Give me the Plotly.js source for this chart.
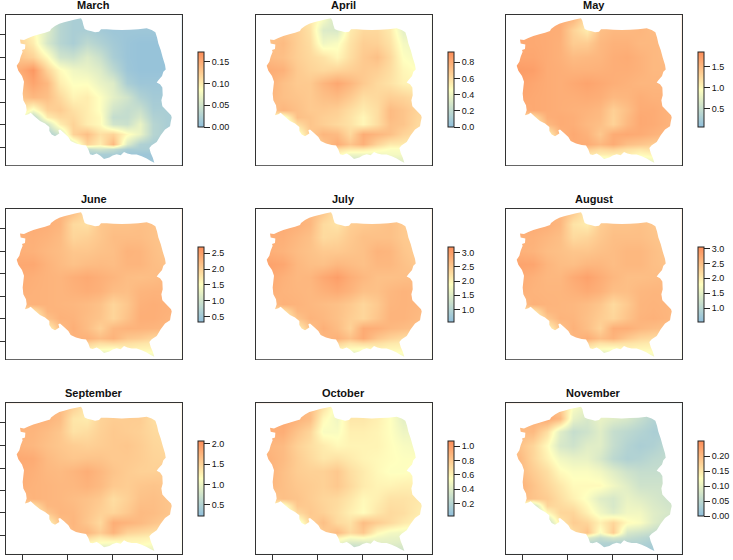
<!DOCTYPE html>
<html><head><meta charset="utf-8">
<script src="https://cdn.plot.ly/plotly-3.0.1.min.js"></script>
<style>html,body{margin:0;padding:0;background:#fff}#c{width:733px;height:560px}</style>
</head><body><div id="c"></div>
<script>
const months=["March","April","May","June","July","August","September","October","November"];
const gridX=[20,60,100,140,180,220,260,300,340,380,420,460,500,540];
const gridY=[50,90,130,170,210,250,290,330,350,370,400,430,445,460,490];
const tickX=[68,203,338,473];
const tickY=[103,171,239,306,373,441];
const outlineX=[60,72,85,100,118,135,150,153,165,178,192,210,228,243,247,250,254,262,275,285,297,303,320,340,365,390,415,440,455,466,471,475,482,488,495,497,490,486,475,470,480,487,488,484,487,500,513,515,512,510,495,482,470,455,448,452,458,463,452,440,425,410,395,382,372,362,350,338,328,312,300,290,278,270,265,258,245,228,212,205,192,180,175,178,165,155,148,148,135,120,105,92,85,75,80,78,70,68,70,72,66,55,50,58,62,68,66,75,76,62];
const outlineY=[118,120,114,108,103,98,93,87,78,71,67,62,58,55,62,75,87,91,94,97,95,88,88,89,90,89,88,85,90,97,112,130,150,172,195,208,215,228,240,247,252,262,285,300,318,332,345,352,365,378,388,405,425,435,443,458,472,487,482,475,468,463,463,460,455,465,462,466,472,476,466,460,464,462,448,436,434,430,422,410,398,388,390,400,408,403,392,380,370,362,350,338,342,345,330,315,300,280,262,245,228,212,197,185,170,155,150,147,133,130];
const marchZ=[
[.10,.10,.08,.05,.03,.02,.02,.015,.01,.01,.01,.01,.01,.01],
[.11,.11,.09,.06,.03,.02,.02,.015,.01,.01,.01,.01,.01,.01],
[.12,.12,.10,.055,.03,.02,.035,.025,.015,.008,.005,.005,.005,.005],
[.13,.13,.12,.09,.05,.045,.06,.045,.02,.008,.005,.005,.005,.005],
[.15,.15,.165,.12,.09,.075,.07,.06,.035,.01,.005,.005,.005,.005],
[.14,.14,.155,.14,.10,.085,.085,.07,.06,.02,.01,.01,.01,.01],
[.13,.13,.14,.135,.115,.095,.10,.085,.065,.05,.025,.015,.015,.015],
[.11,.11,.08,.12,.125,.11,.10,.085,.05,.04,.045,.02,.02,.02],
[.09,.09,.03,.10,.115,.115,.10,.09,.04,.04,.055,.025,.02,.02],
[.03,.03,.02,.05,.10,.12,.10,.09,.05,.045,.07,.03,.02,.02],
[.02,.02,.02,.02,.05,.12,.135,.11,.12,.09,.07,.03,.02,.02],
[.02,.02,.02,.02,.03,.06,.12,.10,.14,.06,.025,.02,.02,.02],
[.02,.02,.02,.02,.02,.03,.04,.05,.04,.02,.02,.02,.02,.02],
[.02,.02,.02,.02,.02,.02,.02,.02,.02,.01,.01,.01,.01,.01],
[.01,.01,.01,.01,.01,.01,.01,.01,.01,.01,.01,.01,.01,.01]];
const aprilZ=[
[.65,.65,.60,.60,.55,.45,.25,.55,.60,.60,.50,.40,.40,.40],
[.65,.70,.70,.66,.58,.32,.30,.55,.62,.62,.55,.35,.35,.35],
[.70,.72,.74,.66,.60,.40,.44,.58,.66,.65,.58,.42,.38,.38],
[.72,.74,.72,.66,.62,.58,.50,.60,.68,.72,.62,.46,.42,.42],
[.76,.80,.78,.68,.64,.62,.64,.66,.68,.66,.60,.50,.46,.46],
[.74,.78,.72,.68,.68,.76,.82,.76,.68,.62,.58,.52,.50,.50],
[.72,.76,.72,.70,.68,.72,.74,.68,.60,.62,.66,.64,.60,.58],
[.68,.70,.76,.72,.68,.68,.66,.60,.54,.60,.74,.70,.64,.62],
[.50,.50,.40,.72,.70,.66,.64,.58,.50,.60,.74,.70,.63,.60],
[.40,.45,.30,.60,.70,.66,.62,.58,.50,.60,.72,.70,.62,.60],
[.30,.30,.30,.40,.68,.76,.74,.62,.80,.76,.72,.64,.60,.60],
[.30,.30,.30,.30,.50,.70,.80,.70,.78,.64,.55,.55,.50,.50],
[.30,.30,.30,.30,.35,.50,.60,.55,.55,.50,.45,.45,.45,.45],
[.30,.30,.30,.30,.40,.45,.50,.40,.40,.40,.42,.42,.40,.40],
[.20,.20,.20,.20,.30,.30,.30,.15,.20,.30,.30,.30,.30,.30]];
const mayZ=[
[1.6,1.6,1.6,1.6,1.6,1.55,1.2,1.5,1.5,1.5,1.5,1.5,1.5,1.5],
[1.6,1.62,1.62,1.6,1.58,1.3,1.1,1.45,1.5,1.5,1.52,1.48,1.45,1.45],
[1.6,1.62,1.62,1.6,1.56,1.35,1.35,1.5,1.55,1.55,1.5,1.5,1.48,1.45],
[1.62,1.64,1.64,1.6,1.56,1.48,1.5,1.52,1.58,1.6,1.55,1.5,1.48,1.45],
[1.66,1.72,1.7,1.6,1.58,1.55,1.55,1.56,1.58,1.58,1.55,1.5,1.5,1.5],
[1.64,1.68,1.64,1.6,1.58,1.62,1.66,1.62,1.58,1.55,1.52,1.52,1.52,1.5],
[1.62,1.65,1.62,1.6,1.58,1.58,1.6,1.58,1.5,1.52,1.58,1.55,1.55,1.55],
[1.45,1.58,1.62,1.6,1.58,1.56,1.54,1.5,1.32,1.45,1.6,1.6,1.55,1.5],
[1.3,1.3,1.2,1.58,1.6,1.58,1.52,1.48,1.3,1.48,1.62,1.6,1.55,1.5],
[1.0,1.1,1.0,1.5,1.6,1.58,1.5,1.45,1.3,1.5,1.62,1.6,1.55,1.5],
[.9,.9,.9,1.0,1.55,1.62,1.55,1.38,1.6,1.62,1.6,1.55,1.5,1.45],
[.9,.9,.9,.9,1.4,1.6,1.6,1.5,1.6,1.45,1.4,1.35,1.3,1.3],
[.9,.9,.9,.9,1.0,1.3,1.35,1.25,1.3,1.2,1.15,1.2,1.15,1.1],
[.9,.9,.9,.9,.9,1.1,1.15,1.1,1.1,1.1,1.0,1.05,1.05,1.0],
[.7,.7,.7,.7,.7,.7,.7,.5,.7,.7,.7,.7,.7,.7]];
const juneZ=[
[2.3,2.3,2.3,2.3,2.3,2.2,1.85,2.15,2.15,2.15,2.15,2.15,2.15,2.15],
[2.3,2.35,2.38,2.35,2.28,1.9,1.85,2.1,2.15,2.15,2.18,2.15,2.1,2.1],
[2.3,2.32,2.34,2.3,2.22,1.95,2.0,2.1,2.2,2.2,2.2,2.15,2.1,2.1],
[2.32,2.34,2.32,2.25,2.2,2.1,2.1,2.15,2.18,2.3,2.28,2.18,2.1,2.1],
[2.36,2.42,2.42,2.3,2.22,2.15,2.2,2.22,2.2,2.28,2.28,2.2,2.15,2.15],
[2.34,2.38,2.34,2.3,2.28,2.35,2.4,2.34,2.28,2.2,2.18,2.2,2.25,2.25],
[2.32,2.35,2.32,2.3,2.28,2.32,2.36,2.32,2.2,2.18,2.28,2.3,2.3,2.3],
[2.1,2.25,2.32,2.3,2.28,2.26,2.22,2.15,1.95,2.1,2.32,2.35,2.32,2.28],
[1.9,1.9,1.8,2.28,2.3,2.28,2.22,2.14,1.95,2.12,2.34,2.35,2.32,2.28],
[1.6,1.7,1.6,2.15,2.32,2.3,2.2,2.12,1.95,2.15,2.35,2.35,2.3,2.25],
[1.5,1.5,1.5,1.6,2.2,2.35,2.2,2.0,2.25,2.3,2.3,2.28,2.25,2.2],
[1.5,1.5,1.5,1.5,2.0,2.3,2.32,2.2,2.3,2.1,2.05,1.95,1.9,1.85],
[1.5,1.5,1.5,1.5,1.7,1.95,2.0,1.85,1.9,1.85,1.8,1.75,1.7,1.7],
[1.5,1.5,1.5,1.5,1.6,1.7,1.75,1.6,1.55,1.7,1.65,1.65,1.6,1.6],
[1.2,1.2,1.2,1.2,1.2,1.2,1.2,.8,1.2,1.3,1.3,1.3,1.3,1.3]];
const julyZ=[
[2.75,2.75,2.75,2.75,2.7,2.55,2.15,2.5,2.5,2.5,2.5,2.5,2.5,2.5],
[2.75,2.85,2.85,2.8,2.7,2.3,2.2,2.45,2.5,2.55,2.6,2.5,2.45,2.45],
[2.75,2.8,2.8,2.7,2.6,2.3,2.35,2.5,2.6,2.6,2.6,2.5,2.45,2.45],
[2.78,2.8,2.75,2.65,2.58,2.5,2.5,2.55,2.6,2.75,2.72,2.55,2.45,2.45],
[2.85,2.95,2.9,2.7,2.62,2.6,2.7,2.65,2.6,2.7,2.7,2.6,2.5,2.5],
[2.82,2.88,2.78,2.7,2.72,2.88,3.0,2.82,2.7,2.6,2.6,2.62,2.65,2.65],
[2.78,2.82,2.75,2.72,2.7,2.78,2.85,2.75,2.6,2.6,2.7,2.75,2.72,2.7],
[2.5,2.65,2.78,2.75,2.7,2.65,2.6,2.5,2.35,2.5,2.72,2.75,2.72,2.65],
[2.3,2.3,2.2,2.7,2.72,2.68,2.6,2.48,2.35,2.52,2.74,2.75,2.7,2.62],
[2.0,2.1,2.0,2.55,2.75,2.7,2.6,2.45,2.35,2.55,2.75,2.75,2.68,2.6],
[1.9,1.9,1.9,2.0,2.6,2.8,2.65,2.4,2.85,2.8,2.7,2.65,2.6,2.55],
[1.9,1.9,1.9,1.9,2.4,2.7,2.78,2.6,2.85,2.55,2.4,2.3,2.2,2.2],
[1.9,1.9,1.9,1.9,2.1,2.35,2.4,2.2,2.3,2.25,2.15,2.1,2.05,2.05],
[1.9,1.9,1.9,1.9,2.0,2.05,2.1,1.95,1.9,2.05,2.0,2.0,1.95,1.95],
[1.6,1.6,1.6,1.6,1.6,1.6,1.6,1.0,1.6,1.7,1.7,1.7,1.7,1.7]];
const augustZ=[
[2.6,2.6,2.6,2.6,2.6,2.4,2.0,2.45,2.45,2.45,2.4,2.4,2.4,2.4],
[2.6,2.7,2.72,2.68,2.58,2.1,2.0,2.35,2.45,2.45,2.48,2.42,2.4,2.4],
[2.6,2.65,2.65,2.58,2.5,2.2,2.25,2.4,2.5,2.5,2.5,2.45,2.4,2.4],
[2.62,2.65,2.62,2.52,2.48,2.42,2.42,2.48,2.52,2.58,2.58,2.5,2.42,2.42],
[2.7,2.8,2.78,2.6,2.52,2.5,2.58,2.58,2.52,2.58,2.58,2.5,2.45,2.45],
[2.65,2.72,2.65,2.58,2.58,2.72,2.82,2.7,2.58,2.5,2.5,2.52,2.55,2.55],
[2.62,2.68,2.62,2.6,2.6,2.65,2.72,2.65,2.5,2.5,2.58,2.6,2.6,2.6],
[2.35,2.5,2.65,2.62,2.6,2.58,2.52,2.42,2.2,2.38,2.6,2.62,2.6,2.55],
[2.15,2.15,2.05,2.58,2.6,2.58,2.5,2.38,2.22,2.42,2.6,2.63,2.6,2.52],
[1.85,1.95,1.85,2.4,2.62,2.6,2.48,2.35,2.25,2.45,2.62,2.65,2.6,2.5],
[1.8,1.8,1.8,1.85,2.45,2.65,2.5,2.28,2.68,2.68,2.58,2.52,2.48,2.42],
[1.8,1.8,1.8,1.8,2.25,2.58,2.68,2.5,2.62,2.4,2.25,2.2,2.15,2.1],
[1.8,1.8,1.8,1.8,1.95,2.2,2.3,2.1,2.15,2.1,2.05,2.0,1.95,1.95],
[1.8,1.8,1.8,1.8,1.9,1.95,2.0,1.85,1.8,1.95,1.9,1.9,1.85,1.85],
[1.5,1.5,1.5,1.5,1.5,1.5,1.5,.9,1.5,1.6,1.6,1.6,1.6,1.6]];
const septemberZ=[
[1.7,1.7,1.7,1.7,1.7,1.55,1.3,1.55,1.55,1.55,1.5,1.45,1.45,1.45],
[1.7,1.75,1.78,1.75,1.68,1.35,1.3,1.5,1.55,1.55,1.55,1.42,1.4,1.4],
[1.72,1.75,1.74,1.68,1.6,1.38,1.42,1.52,1.58,1.55,1.52,1.45,1.42,1.42],
[1.74,1.75,1.72,1.65,1.6,1.55,1.52,1.55,1.58,1.6,1.55,1.48,1.45,1.45],
[1.8,1.84,1.82,1.7,1.64,1.6,1.62,1.62,1.58,1.58,1.55,1.5,1.48,1.48],
[1.78,1.82,1.78,1.72,1.7,1.74,1.8,1.72,1.62,1.56,1.52,1.52,1.55,1.55],
[1.76,1.8,1.76,1.74,1.72,1.72,1.76,1.7,1.58,1.55,1.6,1.62,1.6,1.6],
[1.55,1.7,1.76,1.74,1.72,1.68,1.64,1.58,1.42,1.52,1.64,1.66,1.62,1.58],
[1.45,1.5,1.4,1.72,1.73,1.7,1.63,1.55,1.44,1.55,1.67,1.67,1.62,1.56],
[1.2,1.3,1.2,1.6,1.74,1.72,1.62,1.52,1.48,1.58,1.7,1.68,1.62,1.55],
[1.15,1.15,1.15,1.2,1.65,1.74,1.6,1.45,1.8,1.75,1.7,1.62,1.55,1.5],
[1.15,1.15,1.15,1.15,1.45,1.7,1.72,1.55,1.75,1.5,1.45,1.4,1.3,1.3],
[1.15,1.15,1.15,1.15,1.25,1.4,1.45,1.3,1.4,1.3,1.28,1.25,1.2,1.2],
[1.15,1.15,1.15,1.15,1.15,1.2,1.2,1.15,1.1,1.2,1.2,1.15,1.1,1.1],
[.8,.8,.8,.8,.8,.8,.8,.5,.8,.9,.9,.9,.9,.9]];
const octoberZ=[
[.88,.88,.9,.88,.85,.7,.48,.68,.66,.62,.55,.5,.5,.5],
[.85,.9,.95,.9,.85,.58,.48,.66,.66,.62,.55,.42,.42,.42],
[.88,.92,.92,.82,.74,.52,.52,.62,.62,.6,.55,.47,.47,.47],
[.85,.88,.86,.76,.7,.64,.58,.6,.6,.6,.56,.52,.5,.5],
[.85,.9,.86,.78,.72,.66,.68,.64,.6,.58,.56,.54,.54,.54],
[.85,.9,.84,.78,.76,.76,.8,.7,.64,.58,.54,.54,.56,.56],
[.82,.88,.84,.8,.78,.76,.8,.72,.64,.6,.6,.62,.62,.62],
[.7,.8,.84,.82,.78,.74,.72,.66,.58,.62,.68,.68,.66,.62],
[.6,.6,.5,.8,.79,.75,.71,.64,.57,.64,.7,.69,.65,.61],
[.42,.48,.4,.72,.8,.76,.7,.62,.56,.66,.72,.7,.64,.6],
[.35,.35,.35,.42,.76,.84,.72,.68,.85,.78,.72,.65,.6,.55],
[.35,.35,.35,.35,.6,.78,.86,.72,.8,.58,.5,.48,.45,.45],
[.32,.32,.32,.32,.45,.58,.62,.52,.55,.48,.45,.44,.42,.42],
[.3,.3,.3,.3,.4,.45,.48,.38,.38,.42,.42,.4,.38,.38],
[.2,.2,.2,.2,.2,.2,.2,.1,.2,.3,.3,.3,.3,.3]];
const novemberZ=[
[.2,.2,.2,.2,.18,.12,.1,.1,.1,.09,.07,.05,.04,.04],
[.19,.2,.21,.22,.2,.1,.08,.1,.09,.08,.06,.04,.03,.03],
[.19,.2,.2,.16,.09,.06,.07,.09,.06,.05,.04,.03,.03,.03],
[.19,.19,.17,.13,.08,.07,.09,.09,.06,.04,.03,.035,.05,.05],
[.19,.2,.17,.14,.11,.1,.1,.08,.05,.035,.04,.05,.055,.055],
[.19,.2,.18,.16,.13,.12,.12,.11,.09,.07,.06,.06,.06,.06],
[.2,.21,.19,.17,.15,.13,.13,.13,.11,.09,.07,.07,.07,.07],
[.15,.2,.19,.18,.16,.14,.12,.09,.08,.1,.09,.08,.07,.07],
[.12,.12,.06,.17,.165,.155,.13,.1,.08,.105,.1,.085,.075,.07],
[.05,.07,.05,.13,.17,.17,.14,.11,.09,.11,.11,.09,.08,.07],
[.04,.04,.04,.05,.15,.18,.17,.14,.17,.13,.12,.09,.07,.06],
[.04,.04,.04,.04,.1,.16,.19,.12,.18,.08,.07,.06,.05,.05],
[.035,.035,.035,.035,.06,.09,.09,.06,.08,.06,.05,.04,.04,.04],
[.03,.03,.03,.03,.05,.06,.05,.04,.04,.04,.04,.03,.03,.03],
[.02,.02,.02,.02,.02,.02,.02,.02,.02,.02,.02,.02,.02,.02]];
const monthZ=[marchZ,aprilZ,mayZ,juneZ,julyZ,augustZ,septemberZ,octoberZ,novemberZ];
const zMin=[0,0,.064,.33,.555,.53,.22,.024,0];
const zMax=[.173,.928,1.84,2.70,3.2,3.05,2.07,1.074,.25];
const barTicks=[[0,.05,.10,.15],[0,.2,.4,.6,.8],[.5,1,1.5],[.5,1,1.5,2,2.5],[1,1.5,2,2.5,3],[1,1.5,2,2.5,3],[.5,1,1.5,2],[.2,.4,.6,.8,1],[0,.05,.1,.15,.2]];
const barLabels=[["0.00","0.05","0.10","0.15"],["0.0","0.2","0.4","0.6","0.8"],["0.5","1.0","1.5"],["0.5","1.0","1.5","2.0","2.5"],["1.0","1.5","2.0","2.5","3.0"],["1.0","1.5","2.0","2.5","3.0"],["0.5","1.0","1.5","2.0"],["0.2","0.4","0.6","0.8","1.0"],["0.00","0.05","0.10","0.15","0.20"]];
const palette=[[0,"#91BFDB"],[.5,"#FFFFBF"],[1,"#FC8D59"]];

const W=733,H=560;
const colL=[6,256,506],plotW=175.7,rowT=[15,209,403.4],plotH=150.3;
const barL=[198,448,698],barT=[52,247,441],barH=75;
const font="Liberation Sans, Arial, sans-serif";
const axisBase={range:null,showgrid:false,zeroline:false,showline:true,mirror:true,linecolor:"#333",linewidth:1,showticklabels:false,tickcolor:"#333",tickwidth:1,ticklen:6,fixedrange:true};
const hole="M"+outlineX.map((x,i)=>x+","+outlineY[i]).join("L")+"Z";
const mask="M0,0L600,0L600,520L0,520Z"+hole;
const data=[],shapes=[],annotations=[];
const layout={width:W,height:H,margin:{l:0,r:0,t:0,b:0,autoexpand:false},paper_bgcolor:"#fff",plot_bgcolor:"#fff",showlegend:false,font:{family:font,color:"#111"}};
months.forEach((m,i)=>{
  const c=i%3,r=Math.floor(i/3),n=i+1,s=n===1?"":String(n);
  layout["xaxis"+s]=Object.assign({},axisBase,{range:[18,545],domain:[colL[c]/W,(colL[c]+plotW)/W],anchor:"y"+s,tickvals:r===2?tickX:[],ticks:r===2?"outside":""});
  layout["yaxis"+s]=Object.assign({},axisBase,{range:[495,45],domain:[1-(rowT[r]+plotH)/H,1-rowT[r]/H],anchor:"x"+s,tickvals:c===0?tickY:[],ticks:c===0?"outside":""});
  data.push({type:"heatmap",x:gridX,y:gridY,z:monthZ[i],xaxis:"x"+s,yaxis:"y"+s,zmin:zMin[i],zmax:zMax[i],zsmooth:"best",colorscale:palette,hoverinfo:"skip",
    colorbar:{x:barL[c]/W,xanchor:"left",xref:"paper",y:1-barT[r]/H,yanchor:"top",yref:"paper",thicknessmode:"pixels",thickness:6,lenmode:"pixels",len:barH,xpad:0,ypad:0,outlinewidth:1,outlinecolor:"#222",borderwidth:0,ticks:"outside",ticklen:6,tickwidth:1,tickcolor:"#222",tickmode:"array",tickvals:barTicks[i],ticktext:barLabels[i],tickprefix:"\u00A0\u00A0",tickfont:{family:font,size:9,color:"#111"}}});
  shapes.push({type:"path",path:mask,xref:"x"+s,yref:"y"+s,fillcolor:"#fff",fillrule:"evenodd",line:{width:0},layer:"above"});
  annotations.push({text:"<b>"+m+"</b>",xref:"paper",yref:"paper",x:(colL[c]+plotW/2)/W,y:1-(rowT[r]-10)/H,xanchor:"center",yanchor:"middle",showarrow:false,font:{family:font,size:11,color:"#111"}});
});
layout.shapes=shapes;layout.annotations=annotations;
Plotly.newPlot("c",data,layout,{displayModeBar:false,staticPlot:true});
</script></body></html>
